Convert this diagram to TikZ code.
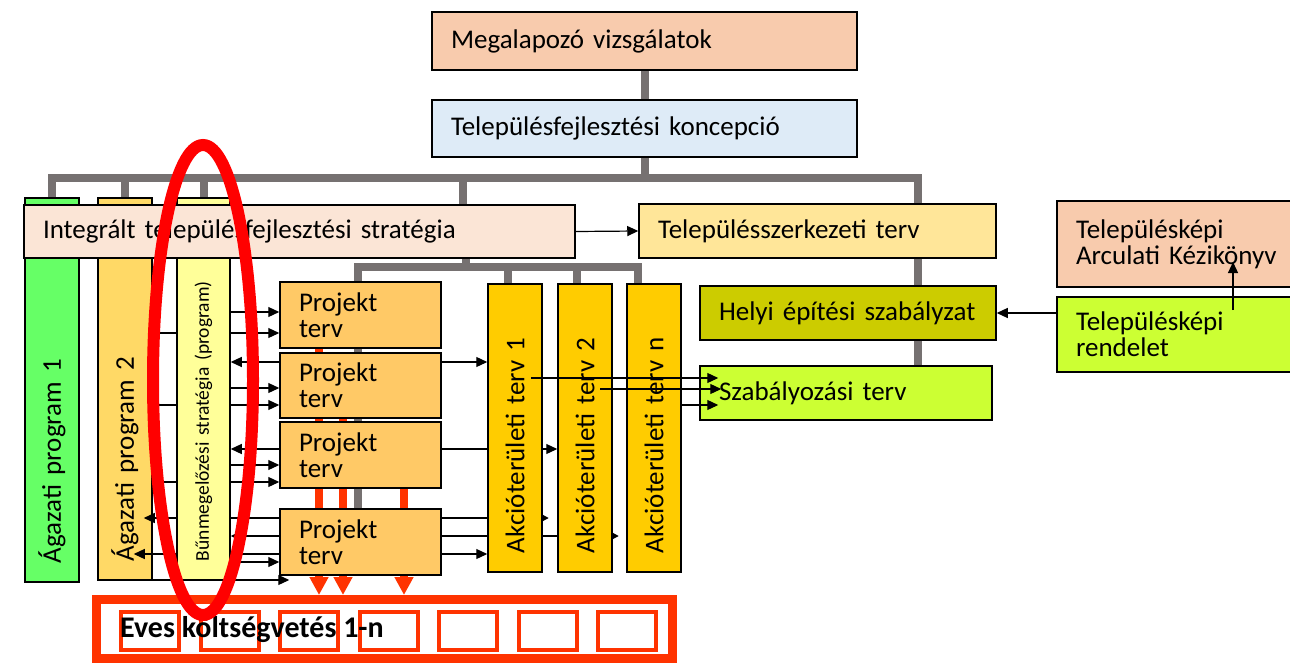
\documentclass[tikz,border=0pt]{standalone}
\usepackage{fontspec}
\setmainfont{Carlito}
\usepackage{xcolor}
\usetikzlibrary{arrows.meta,backgrounds}
\definecolor{peach}{HTML}{F8CBAD}
\definecolor{lightblue}{HTML}{DEEBF7}
\definecolor{lightpink}{HTML}{FBE5D6}
\definecolor{lightyellow}{HTML}{FFE699}
\definecolor{olive}{HTML}{CCCC00}
\definecolor{lime}{HTML}{CCFF33}
\definecolor{aggreen}{HTML}{66FF66}
\definecolor{agorange}{HTML}{FFD966}
\definecolor{bunyellow}{HTML}{FFFF99}
\definecolor{projorange}{HTML}{FFC966}
\definecolor{akcyellow}{HTML}{FFCC00}
\definecolor{budgetred}{HTML}{FF3300}
\definecolor{treegray}{HTML}{767171}
\pgfdeclarelayer{bars}
\pgfdeclarelayer{lines}
\pgfsetlayers{bars,lines,main}

\begin{document}
\begin{tikzpicture}[x=1pt, y=-1pt,
  box/.style={draw=black, line width=1.5pt, inner xsep=19pt, inner ysep=0pt,
    align=left, font=\fontsize{27}{26}\selectfont},
  wh/.code 2 args={\pgfmathsetmacro\boxtw{#1-38}%
    \pgfkeysalso{minimum width=#1pt, minimum height=#2pt, text width=\boxtw pt}},
  vbar/.style={box, rotate=90},
  cell/.style={draw=budgetred, line width=4pt, fill=white, minimum width=58pt,
    minimum height=38pt, inner sep=0pt},
  tree/.style={draw=treegray, line width=8pt},
  feed/.style={draw=budgetred, line width=8pt, -{Triangle[length=18pt,width=18pt]}},
  arr/.style={line width=1.2pt, -{Triangle[length=11pt,width=10pt]}},
  darr/.style={line width=1.2pt, {Triangle[length=11pt,width=10pt]}-{Triangle[length=11pt,width=10pt]}},
  sarr/.style={line width=1.2pt, {Triangle[length=11pt,width=10pt]}-{Triangle[length=6pt,width=6pt]}},
  ring/.style={draw=red, line width=12pt}]
\useasboundingbox (0,0) rectangle (1290,663);

% sector programmes behind the strategy
\begin{pgfonlayer}{bars}
\node[vbar, fill=aggreen, wh={384}{54}] (ag1) at (52,390) {Ágazati program 1};
\node[vbar, fill=agorange, wh={382}{54}] (ag2) at (125,389) {Ágazati program 2};
\end{pgfonlayer}
\node[vbar, fill=bunyellow, wh={382}{53}, font=\fontsize{19.5}{22}\selectfont] (bun) at (203.5,389)
  {Bűnmegelőzési stratégia (program)};

\node[box, fill=peach, wh={425}{58}] (megal) at (644.5,41) {Megalapozó vizsgálatok};
\node[box, fill=lightblue, wh={425}{57}] (konc) at (644.5,128.5) {Településfejlesztési koncepció};
\node[box, fill=lightpink, wh={551}{53}] (strat) at (299.5,231.5) {Integrált településfejlesztési stratégia};
\node[box, fill=lightyellow, wh={357}{54}] (szerk) at (817.5,231) {Településszerkezeti terv};
\node[box, fill=olive, wh={296}{54}] (helyi) at (848,313) {Helyi építési~szabályzat};
\node[box, fill=lime, wh={292}{54}] (szab) at (846,393) {Szabályozási terv};
\node[box, fill=peach, wh={235}{86}] (kez) at (1174.5,244) {Településképi\\Arculati~Kézikönyv};
\node[box, fill=lime, wh={235}{75}] (rend) at (1174.5,334.5) {Településképi\\rendelet};

% project plans
\foreach \n/\y/\h in {1/315/66, 2/385.5/65, 3/455/66, 4/542/66}
  \node[box, fill=projorange, wh={161}{\h}] (p\n) at (360.5,\y) {Projekt\\terv};

% action area plans
\foreach \n/\x in {1/515, 2/585, n/654}
  \node[vbar, fill=akcyellow, wh={288}{54}] (akc\n) at (\x,428) {Akcióterületi terv \n};

% yearly budget
\node[draw=budgetred, line width=9pt, fill=white, minimum width=576pt, minimum height=59pt,
  inner sep=0pt] (budget) at (384.5,629) {};
\foreach \i in {0,...,6}
  \node[cell] (q\i) at (150+79.5*\i,631) {};
\node[font=\bfseries\fontsize{30}{32}\selectfont, anchor=base west, inner sep=0pt] (evtxt)
  at (120,637) {Eves költségvetés 1-n};

\begin{pgfonlayer}{lines}
% hierarchy
\coordinate (bus) at (644.5,178);
\coordinate (busR) at (918,178);
\coordinate (busS) at (463,178);
\draw[tree] (megal.south) -- (konc.north);
\draw[tree] (konc.south) -- (bus);
\draw[tree] (ag1.east) -- (ag1.east |- bus) -- (busR) -- (busR |- szerk.north);
\draw[tree] (ag2.east) -- (ag2.east |- bus);
\draw[tree] (bun.east) -- (bun.east |- bus);
\draw[tree] (busS) -- (busS |- strat.north);
\coordinate (b2) at (466,267);
\coordinate (b2l) at (358,267);
\coordinate (b2r) at (638,267);
\coordinate (d1) at (508,267);
\coordinate (d2) at (577,267);
\draw[tree] (b2 |- strat.south) -- (b2);
\draw[tree] (p4.north -| b2l) -- (b2l) -- (b2r) -- (b2r |- akcn.east);
\draw[tree] (d1) -- (d1 |- akc1.east);
\draw[tree] (d2) -- (d2 |- akc2.east);
\draw[tree] (szerk.south -| busR) -- (helyi.north -| busR);
\draw[tree] (helyi.south -| busR) -- (szab.north -| busR);
% into the budget
\coordinate (f1) at (319,0);
\coordinate (f2) at (343,0);
\coordinate (f3) at (404,0);
\draw[feed] (f1 |- p1.south) -- (f1 |- budget.north);
\draw[feed] (f2 |- p2.south) -- (f2 |- budget.north);
\draw[feed] (f3 |- p3.south) -- (f3 |- budget.north);
% programmes to projects
\foreach \y/\p in {312/1, 388/2, 465/3, 562/4}
  \draw[arr] (bun.south |- 0,\y) -- (p\p.west |- 0,\y);
\foreach \y/\p in {333/1, 405/2, 482/3}
  \draw[arr] (ag2.south |- 0,\y) -- (p\p.west |- 0,\y);
\draw[arr, shorten >=-10pt] (ag2.south |- 0,580) -- (p4.west |- 0,580);
\draw[darr] (bun.south |- 0,362) -- (akc1.north |- 0,362);
\draw[darr] (bun.south |- 0,449) -- (akc2.north |- 0,449);
\draw[sarr, shorten <=-9pt, shorten >=-6pt] (ag2.south |- 0,518) -- (akc1.south |- 0,518);
\draw[sarr, shorten >=-6pt] (bun.south |- 0,536) -- (akc2.south |- 0,536);
\draw[darr, shorten <=-19pt] (ag2.south |- 0,554) -- (akc1.north |- 0,554);
\end{pgfonlayer}

\draw[arr] (strat.east) -- (szerk.west);
\draw[arr] (rend.west |- helyi.east) -- (helyi.east);
\coordinate (kzA) at (1233,310);
\coordinate (kzB) at (1233,262);
\draw[arr] (kzA) -- (kzB);
\coordinate (s1) at (531,378);
\coordinate (s2) at (600,389);
\draw[arr, shorten >=-19pt] (s1) -- (szab.west |- s1);
\draw[arr, shorten >=-22pt] (s2) -- (szab.west |- s2);
\draw[arr, shorten >=-19pt] (akcn.south |- 0,405) -- (szab.west |- 0,405);

\draw[ring] (203,380) ellipse [x radius=50pt, y radius=235pt];
\end{tikzpicture}
\end{document}
